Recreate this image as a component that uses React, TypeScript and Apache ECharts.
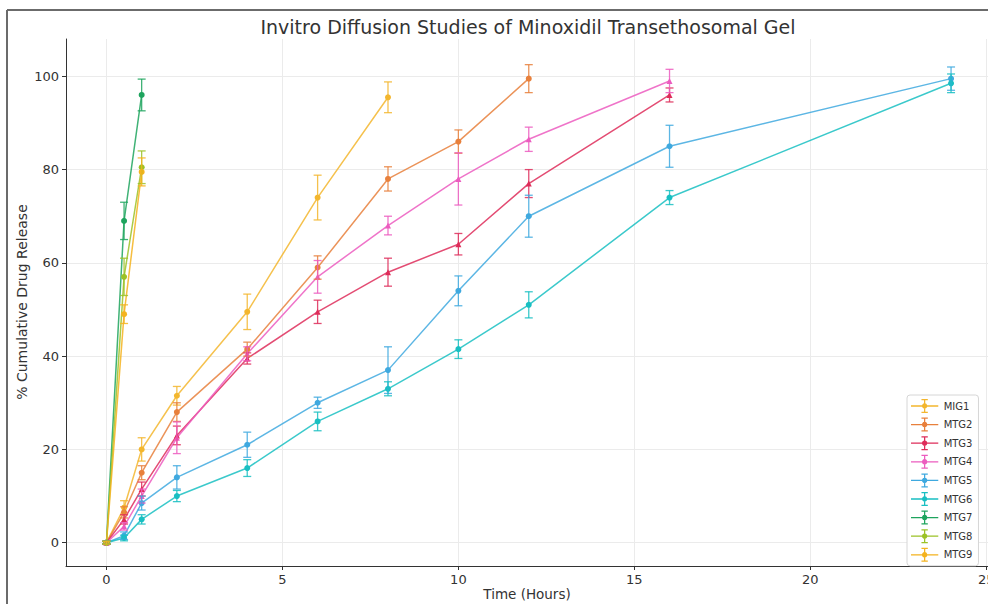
import React, { useEffect, useRef } from "react";
import * as echarts from "echarts";

// ---- data ----
const groupNames = ["MIG1", "MTG2", "MTG3", "MTG4", "MTG5", "MTG6", "MTG7", "MTG8", "MTG9"];
const groupColors = ["#f3b62e", "#e8803c", "#de2d5a", "#ec5cbf", "#3fa9df", "#19bfc2", "#1ea45e", "#9cc227", "#f4b31f"];
const groupSymbols = ["circle", "circle", "triangle", "triangle", "circle", "circle", "circle", "circle", "circle"];

const timeAll = [0, 0.5, 1, 2, 4, 6, 8, 10, 12, 16, 24];
const timeEarly = [0, 0.5, 1];

const mig1Mean = [0, 7.5, 20, 31.5, 49.5, 74, 95.5];
const mig1Sd = [0.3, 1.5, 2.5, 2, 3.8, 4.8, 3.3];
const mtg2Mean = [0, 6.5, 15, 28, 41.5, 59, 78, 86, 99.5];
const mtg2Sd = [0.3, 1.2, 1.5, 2, 1.5, 2.5, 2.6, 2.5, 3];
const mtg3Mean = [0, 5, 11.5, 23, 39.5, 49.5, 58, 64, 77, 96];
const mtg3Sd = [0.3, 1, 1.5, 2, 1.2, 2.5, 3, 2.3, 3, 1.5];
const mtg4Mean = [0, 3.5, 10, 22.5, 40.5, 57, 68, 78, 86.5, 99];
const mtg4Sd = [0.3, 0.8, 1.5, 3.4, 1.5, 3.5, 2, 5.6, 2.6, 2.5];
const mtg5Mean = [0, 1.5, 8.5, 14, 21, 30, 37, 54, 70, 85, 99.5];
const mtg5Sd = [0.3, 0.8, 1.5, 2.5, 2.7, 1.2, 5, 3.2, 4.5, 4.5, 2.5];
const mtg6Mean = [0, 1, 5, 10, 16, 26, 33, 41.5, 51, 74, 98.5];
const mtg6Sd = [0.3, 0.6, 1, 1.2, 1.8, 2, 1.5, 2, 2.8, 1.5, 2];
const mtg7Mean = [0, 69, 96];
const mtg7Sd = [0.3, 4, 3.4];
const mtg8Mean = [0, 57, 80.5];
const mtg8Sd = [0.3, 4, 3.5];
const mtg9Mean = [0, 49, 79.5];
const mtg9Sd = [0.3, 2, 3];

const xTicks = [0, 5, 10, 15, 20, 25];
const yTicks = [0, 20, 40, 60, 80, 100];

const titleText = "Invitro Diffusion Studies of Minoxidil Transethosomal Gel";
const xAxisTitle = "Time (Hours)";
const yAxisTitle = "% Cumulative Drug Release";

const groupMeans = [mig1Mean, mtg2Mean, mtg3Mean, mtg4Mean, mtg5Mean, mtg6Mean, mtg7Mean, mtg8Mean, mtg9Mean];
const groupSds = [mig1Sd, mtg2Sd, mtg3Sd, mtg4Sd, mtg5Sd, mtg6Sd, mtg7Sd, mtg8Sd, mtg9Sd];
const groupTimes = [timeAll, timeAll, timeAll, timeAll, timeAll, timeAll, timeEarly, timeEarly, timeEarly];

const FONT = "DejaVu Sans";
const LEGEND_ICON =
  "path://M0,9.3H30V10.7H0Z M14.3,3H15.7V17H14.3Z M11.5,2.3H18.5V3.7H11.5Z M11.5,16.3H18.5V17.7H11.5Z M15,7A3,3 0 1 1 14.99,7Z";

export default function App() {
  const ref = useRef<HTMLDivElement>(null);

  useEffect(() => {
    document.body.style.margin = "0";
    if (!ref.current) return;
    const chart = echarts.init(ref.current, undefined, { renderer: "svg" });

    const series: any[] = [];
    groupNames.forEach((name, i) => {
      const t = groupTimes[i];
      const mean = groupMeans[i];
      const sd = groupSds[i];
      const color = groupColors[i];
      const lineData = mean.map((v, k) => [t[k], v]);
      const errData = mean.map((v, k) => [t[k], v, v - sd[k], v + sd[k]]);
      series.push({
        name,
        type: "line",
        data: lineData,
        color,
        symbol: groupSymbols[i],
        symbolSize: 6,
        lineStyle: { width: 1.5, color, opacity: 0.85 },
        itemStyle: { color },
        z: 3,
      });
      series.push({
        name,
        type: "custom",
        data: errData,
        encode: { x: 0, y: 1 },
        z: 4,
        renderItem: (params: any, api: any) => {
          const x = api.value(0);
          const lo = api.coord([x, api.value(2)]);
          const hi = api.coord([x, api.value(3)]);
          const cap = 4;
          const st = { stroke: color, lineWidth: 1.3, opacity: 0.85 };
          return {
            type: "group",
            children: [
              { type: "line", shape: { x1: lo[0], y1: lo[1], x2: hi[0], y2: hi[1] }, style: st },
              { type: "line", shape: { x1: lo[0] - cap, y1: lo[1], x2: lo[0] + cap, y2: lo[1] }, style: st },
              { type: "line", shape: { x1: hi[0] - cap, y1: hi[1], x2: hi[0] + cap, y2: hi[1] }, style: st },
            ],
          };
        },
      });
    });

    chart.setOption({
      animation: false,
      backgroundColor: "#ffffff",
      textStyle: { fontFamily: FONT },
      grid: { left: 66, right: 0, top: 39, bottom: 38, containLabel: false, outerBoundsMode: "none" },
      graphic: [
        { type: "line", shape: { x1: 7, y1: 10, x2: 988, y2: 10 }, style: { stroke: "#6b6b6b", lineWidth: 2 } },
        { type: "line", shape: { x1: 7, y1: 10, x2: 7, y2: 604 }, style: { stroke: "#6b6b6b", lineWidth: 2 } },
        {
          type: "text",
          x: 528,
          y: 27,
          style: {
            text: titleText,
            fontFamily: FONT,
            fontSize: 19,
            fill: "#333333",
            textAlign: "center",
            textVerticalAlign: "middle",
          },
        },
        {
          type: "text",
          x: 527,
          y: 594,
          style: {
            text: xAxisTitle,
            fontFamily: FONT,
            fontSize: 13.5,
            fill: "#333333",
            textAlign: "center",
            textVerticalAlign: "middle",
          },
        },
        {
          type: "text",
          x: 22,
          y: 302,
          rotation: Math.PI / 2,
          style: {
            text: yAxisTitle,
            fontFamily: FONT,
            fontSize: 14,
            fill: "#333333",
            textAlign: "center",
            textVerticalAlign: "middle",
          },
        },
      ],
      xAxis: {
        type: "value",
        min: -1.15,
        max: 25.05,
        axisLine: { show: true, onZero: false, lineStyle: { color: "#333", width: 1 } },
        axisTick: { show: true, inside: false, length: 4, customValues: xTicks, lineStyle: { color: "#333" } },
        axisLabel: { customValues: xTicks, fontFamily: FONT, fontSize: 13, color: "#333", margin: 7 },
        splitLine: { show: true, lineStyle: { color: "#ebebeb", width: 1 } },
      },
      yAxis: {
        type: "value",
        min: -5,
        max: 108,
        axisLine: { show: true, onZero: false, lineStyle: { color: "#333", width: 1 } },
        axisTick: { show: true, inside: false, length: 4, customValues: yTicks, lineStyle: { color: "#333" } },
        axisLabel: { customValues: yTicks, fontFamily: FONT, fontSize: 13, color: "#333", margin: 7 },
        splitLine: { show: true, lineStyle: { color: "#ebebeb", width: 1 } },
      },
      legend: {
        data: groupNames.map((n, i) => ({ name: n, icon: LEGEND_ICON, itemStyle: { color: groupColors[i] } })),
        orient: "vertical",
        left: 907,
        top: 395,
        itemWidth: 28,
        itemHeight: 14,
        itemGap: 4.6,
        padding: [4, 6, 4, 4],
        backgroundColor: "#ffffff",
        borderColor: "#d6d6d6",
        borderWidth: 1,
        borderRadius: 3,
        textStyle: { fontFamily: FONT, fontSize: 10, color: "#333" },
      },
      series,
    });

    return () => chart.dispose();
  }, []);

  return (
    <div
      ref={ref}
      style={{ position: "absolute", left: 0, top: 0, width: 988, height: 604 }}
    />
  );
}
